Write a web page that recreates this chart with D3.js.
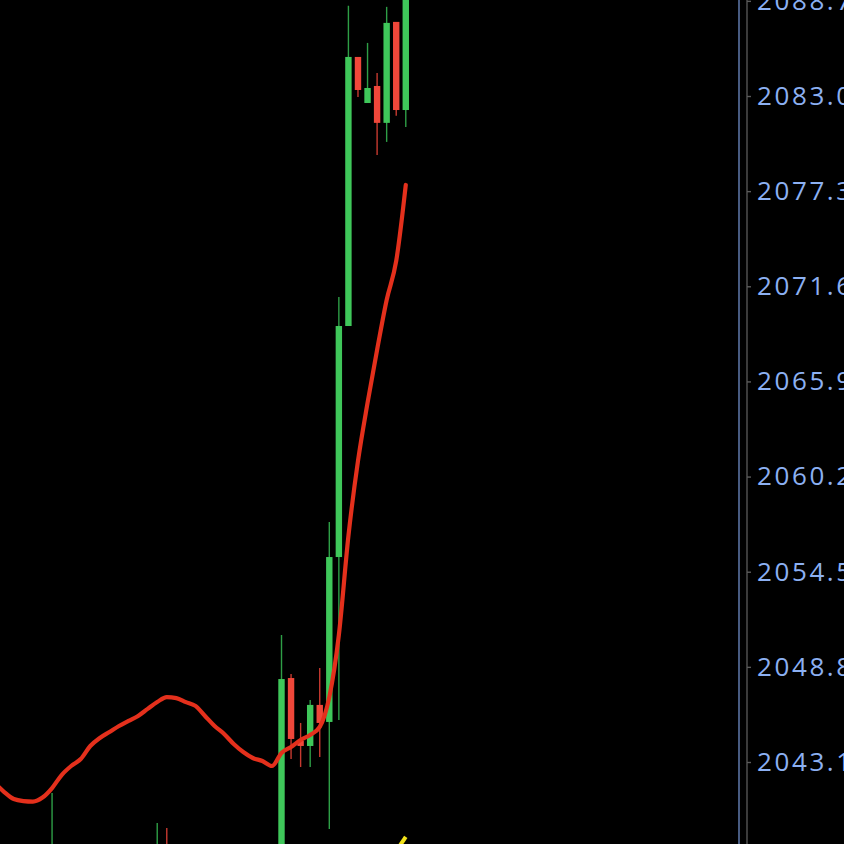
<!DOCTYPE html>
<html><head><meta charset="utf-8">
<script src="https://cdn.jsdelivr.net/npm/d3@7"></script>
<style>html,body{margin:0;padding:0;background:#000;overflow:hidden}</style>
</head><body>
<svg id="c" width="844" height="844"></svg>
<script>
// Candle data (index along time axis, OHLC)
const candleIdx   = [5, 16, 17, 29, 30, 31, 32, 33, 34, 35, 36, 37, 38, 39, 40, 41, 42];
const candleOpen  = [2036.8, 2036.9, 2038.0, 2036.0, 2048.13, 2044.36, 2044.06, 2046.52, 2045.50, 2055.38, 2069.22, 2085.34, 2082.58, 2083.60, 2081.39, 2087.44, 2082.16];
const candleHigh  = [2041.24, 2039.45, 2039.15, 2050.71, 2048.37, 2045.44, 2046.81, 2048.73, 2057.48, 2070.96, 2088.40, 2085.34, 2086.18, 2084.38, 2088.34, 2087.44, 2091.0];
const candleLow   = [2035.9, 2035.8, 2036.2, 2035.5, 2043.28, 2042.80, 2042.80, 2043.40, 2039.09, 2045.62, 2069.22, 2082.94, 2082.58, 2079.47, 2080.25, 2081.81, 2081.15];
const candleClose = [2037.6, 2037.9, 2036.9, 2048.07, 2044.48, 2044.06, 2046.52, 2045.44, 2055.38, 2069.22, 2085.34, 2083.36, 2083.48, 2081.39, 2087.38, 2082.16, 2090.5];

// Moving average (red) from index -1 to 42
const maStart = -1;
const maValues = [2041.84, 2041.30, 2040.88, 2040.76, 2040.73, 2040.97, 2041.54, 2042.32, 2042.86, 2043.28,
  2044.06, 2044.54, 2044.90, 2045.26, 2045.56, 2045.86, 2046.28, 2046.69, 2046.99, 2046.93,
  2046.69, 2046.46, 2045.86, 2045.26, 2044.78, 2044.18, 2043.70, 2043.34, 2043.16, 2042.86,
  2043.64, 2044.00, 2044.42, 2044.72, 2045.20, 2046.99, 2050.71, 2056.64, 2061.13, 2064.61,
  2067.79, 2070.78, 2073.12, 2077.67];

// Second average (yellow), only its last points reach the view
const ma2Idx = [41, 42];
const ma2Values = [2037.77, 2038.61];

const tickValues = [2088.7, 2083.0, 2077.3, 2071.6, 2065.9, 2060.2, 2054.5, 2048.8, 2043.1];

const svg = d3.select("#c");
svg.append("rect").attr("width",844).attr("height",844).attr("fill","#000");

const x = d3.scaleLinear().domain([0, 29]).range([4.26, 281.5]);
const y = d3.scaleLinear().domain([2043.1, 2083.0]).range([762, 96]);

const plot = svg.append("g");

const maData = maValues.map((v,i)=>({i:i+maStart, v}));
const line = d3.line().x(d=>x(d.i)).y(d=>y(d.v)).curve(d3.curveMonotoneX);

const candles = candleIdx.map((idx,k)=>({i:idx,o:candleOpen[k],h:candleHigh[k],l:candleLow[k],c:candleClose[k]}));
const up = "#3fc75a", down = "#f0473a";
const upWick = "#2e9e46", downWick = "#c73a30";
const bw = 6.4;

const g = plot.selectAll("g.candle").data(candles).enter().append("g");
g.append("line")
  .attr("x1",d=>x(d.i)).attr("x2",d=>x(d.i))
  .attr("y1",d=>y(d.h)).attr("y2",d=>y(d.l))
  .attr("stroke",d=>d.c>=d.o?upWick:downWick).attr("stroke-width",1.4);
g.append("rect")
  .attr("x",d=>x(d.i)-bw/2).attr("width",bw)
  .attr("y",d=>y(Math.max(d.o,d.c)))
  .attr("height",d=>Math.max(1.5,Math.abs(y(d.o)-y(d.c))))
  .attr("fill",d=>d.c>=d.o?up:down);

plot.append("path").datum(maData).attr("d",line)
  .attr("fill","none").attr("stroke","#e4301c").attr("stroke-width",4.2)
  .attr("stroke-linejoin","round").attr("stroke-linecap","round");

const ma2 = ma2Idx.map((idx,k)=>({i:idx,v:ma2Values[k]}));
plot.append("path").datum(ma2).attr("d",d3.line().x(d=>x(d.i)).y(d=>y(d.v)))
  .attr("fill","none").attr("stroke","#f2e21a").attr("stroke-width",4);

// axis
svg.append("line").attr("x1",739).attr("x2",739).attr("y1",0).attr("y2",844)
  .attr("stroke","#5b73a3").attr("stroke-width",1.6);
const axis = d3.axisRight(y).tickValues(tickValues).tickFormat(d3.format(".1f"))
  .tickSize(4).tickPadding(6);
const ag = svg.append("g").attr("transform","translate(747,0)").call(axis);
ag.select(".domain").attr("stroke","#4a4a4a").attr("stroke-width",1.6).attr("d","M0,0V844");
ag.selectAll(".tick line").attr("stroke","#5a5a5a").attr("stroke-width",1.4);
ag.selectAll(".tick text").attr("fill","#8cb0f2")
  .style("font-family","'Open Sans', sans-serif").style("font-weight","400")
  .style("font-size","26px").style("letter-spacing","2.6px");
</script>
</body></html>
